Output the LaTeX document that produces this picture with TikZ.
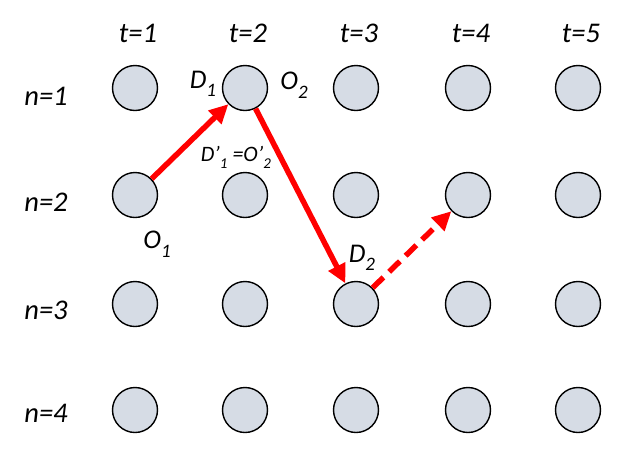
\documentclass[tikz,border=0pt]{standalone}
\usepackage{fontspec}
\setmainfont{Carlito}
\usetikzlibrary{arrows.meta}
\newcommand\mysb[2]{\raisebox{-0.32em}{\fontsize{#1}{#1}\selectfont #2}}
\begin{document}
\begin{tikzpicture}[x=1pt,y=-1pt,
  state/.style={circle,draw=black,line width=1.4pt,fill={rgb,255:red,214;green,220;blue,229},minimum size=45pt,inner sep=0pt},
  axlbl/.style={font=\fontsize{28.5}{32}\selectfont\itshape,inner sep=0pt},
  lbl/.style={font=\fontsize{27}{30}\selectfont\itshape,inner sep=0pt},
  small/.style={font=\fontsize{22}{25}\selectfont\itshape,inner sep=0pt},
  route/.style={draw=red,line width=5.5pt,-{Triangle[length=19pt,width=18pt]}},
  dashroute/.style={route,dash pattern=on 15pt off 8pt}]
\useasboundingbox (0,0) rectangle (633,451);
\foreach \c/\x in {1/135,2/245,3/356,4/468,5/578}{
  \foreach \r/\y in {1/88,2/195,3/304,4/410}{
    \node[state] (c\r\c) at (\x,\y) {};
  }
  \node[axlbl] (t\c) at (\x+3,33) {t=\c};
}
\foreach \r/\y in {1/96,2/202,3/310,4/413}{
  \node[axlbl] (n\r) at (46,\y) {n=\r};
}
\node[lbl] (d1) at (203,84) {D\mysb{19}{1}};
\node[lbl] (o2) at (294,85) {O\mysb{19}{2}};
\node[small] (dd) at (236,157) {D’\mysb{15}{1} =O’\mysb{15}{2}};
\node[lbl] (o1) at (157,244) {O\mysb{19}{1}};
\node[lbl] (d2) at (362,258) {D\mysb{19}{2}};
\draw[route] (c21) -- (c12);
\draw[route] (c12) -- (c33);
\draw[dashroute] (c33) -- (c24);
\end{tikzpicture}
\end{document}
